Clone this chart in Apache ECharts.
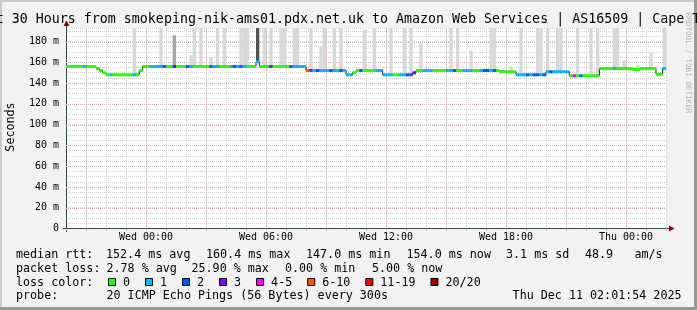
<!DOCTYPE html>
<html><head><meta charset="utf-8">
<script src="https://cdn.jsdelivr.net/npm/echarts@6/dist/echarts.min.js"></script>
<style>html,body{margin:0;padding:0;background:#f2f2f2}#c{width:697px;height:310px}</style>
</head><body><div id="c"></div>
<script>
// ---- data ----
const startHour = 20;      // hours after Tue 00:00 -> Tue 20:00
const endHour = 50;        // Thu 02:00
const sampleHours = 1 / 6; // 10 minute samples
const median = [
 156,156,156,156,156,156,156,156,156,154,
 152,150,148,148,148,148,148,148,148,148,
 148,148,152,156,156,156,156,156,156,156,
 156,156,156,156,156,156,156,156,156,156,
 156,156,156,156,156,156,156,156,156,156,
 156,156,156,156,156,156,156,160.4,156,156,
 156,156,156,156,156,156,156,156,156,156,
 156,156,152,152,152,152,152,152,152,152,
 152,152,152,152,148,148,150,152,152,152,
 152,152,152,152,152,148,148,148,148,148,
 148,148,148,148,150,152,152,152,152,152,
 152,152,152,152,152,152,152,152,152,152,
 152,152,152,152,152,152,152,152,152,152,
 151,151,151,151,151,148,148,148,148,148,
 148,148,148,148,151,151,151,151,151,151,
 151,147,147,147,147,147,147,147,147,147,
 154,154,154,154,154,154,154,154,154,154,
 153,153,154,154,154,154,154,148.5,148.5,154
];
const lossPings = [
 0,0,0,0,0,1,0,0,0,0,
 0,0,0,1,0,0,0,0,0,0,
 1,0,0,0,0,1,1,1,1,2,
 0,0,3,0,0,0,2,1,0,0,
 0,0,0,2,1,1,0,0,0,1,
 2,1,2,1,0,0,0,1,0,0,
 0,3,0,0,0,0,0,2,1,1,
 1,1,6,2,1,2,1,1,1,2,
 1,1,2,1,1,1,0,0,2,0,
 0,0,0,1,1,1,1,1,0,0,
 1,1,2,2,3,0,0,1,1,1,
 0,0,0,0,1,1,2,0,0,1,
 1,1,0,0,1,2,2,1,2,0,
 0,0,0,0,0,1,1,1,2,1,
 2,2,1,2,1,2,1,1,1,1,
 1,0,5,0,2,0,0,0,0,0,
 0,0,0,0,1,0,0,0,0,0,
 0,0,0,0,0,0,0,0,0,1
];
const smokeIndex = [20,28,32,37,38,40,43,45,47,52, 53,54,57,59,61,64,65,68,69,73,
 76,77,80,82,89,92,97,101,103,106, 115,117,121,127,128,133,136,141,142,144,
 147,148,153,157,159,164,165,167,171,175, 179];
const smokeTop = [200,200,186,167,200,200,165,200,200,200, 200,200,200,200,200,200,200,200,200,200,
 175,200,200,200,191,200,200,200,200,178, 200,200,171,200,200,156,200,200,200,200,
 200,200,200,200,200,200,200,162,157,169, 200];
const smokeShade = [0,0,1,0,0,0,0,0,0,0, 0,0,2,0,0,0,0,0,0,0,
 0,0,0,0,0,0,0,0,0,0, 0,0,0,0,0,0,0,0,0,0,
 0,0,0,0,0,0,0,0,0,0, 0];
const majorHours = [21,24,27,30,33,36,39,42,45,48];
const yMajorValues = [20,40,60,80,100,120,140,160,180];
const xLabelHours = [24,30,36,42,48];
const xLabelText = ['Wed 00:00','Wed 06:00','Wed 12:00','Wed 18:00','Thu 00:00'];
const lossUpper = [0,1,2,3,5,10,19,20];
const lossLabels = ['0','1','2','3','4-5','6-10','11-19','20/20'];
const titleText = 'Last 30 Hours from smokeping-nik-ams01.pdx.net.uk to Amazon Web Services | AS16509 | Cape Town';
const statRows = [
 [['median rtt:',16],['152.4 ms avg',106],['160.4 ms max',206],['147.0 ms min',306],['154.0 ms now',406.5],['3.1 ms sd',506],['48.9',585],['am/s',634.5]],
 [['packet loss:',16],['2.78 % avg',106.5],['25.90 % max',191.5],['0.00 % min',285],['5.00 % now',372]],
 [['loss color:',16]],
 [['probe:',16],['20 ICMP Echo Pings (56 Bytes) every 300s',106.5]]
];
const stampText = 'Thu Dec 11 02:01:54 2025';

// ---- styles ----
const lossColors = ['#26ff00','#00b8ff','#0059ff','#7e00ff','#ff00ff','#ff5500','#ff0000','#a10000'];
const shadeColors = ['#d8d8d8','#a8a8a8','#505050'];
const MONO = '"DejaVu Sans Mono"';
const yMax = 193;
const gridMinor = '#d4d4d4';
const gridMajor = '#eba3a3';
const axisColor = '#2c4d43';
const arrowColor = '#7f0000';

function lossColor(p) {
  for (let k = 0; k < lossUpper.length; k++) if (p <= lossUpper[k]) return lossColors[k];
  return lossColors[lossColors.length - 1];
}
const tAt = k => startHour + k * sampleHours;

const medianItems = median.map((v, k) => [tAt(k), tAt(k + 1), v, lossPings[k]]);
const stepPoints = median.map((v, k) => [tAt(k), v]).concat([[endHour, median[median.length - 1]]]);
const smokeItems = smokeIndex.map((k, j) => [tAt(k), tAt(k + 1), median[k], smokeTop[j], smokeShade[j]]);

const chart = echarts.init(document.getElementById('c'), null, {renderer: 'canvas', width: 697, height: 310});

const graphics = [];
// frame shading
graphics.push({type:'rect', shape:{x:0,y:0,width:697,height:2}, style:{fill:'#cbcbcb'}});
graphics.push({type:'rect', shape:{x:0,y:0,width:2,height:310}, style:{fill:'#cbcbcb'}});
graphics.push({type:'rect', shape:{x:0,y:307,width:697,height:3}, style:{fill:'#999999'}});
graphics.push({type:'rect', shape:{x:694,y:0,width:3,height:310}, style:{fill:'#999999'}});
// title
graphics.push({type:'text', x:348, y:19.5, style:{text:titleText, font:'13.3px ' + MONO, fill:'#000', textAlign:'center', textVerticalAlign:'middle'}});
// y axis name
graphics.push({type:'text', x:10.5, y:127, rotation:Math.PI/2, style:{text:'Seconds', font:'11.7px ' + MONO, fill:'#000', textAlign:'center', textVerticalAlign:'middle'}});
// watermark
graphics.push({type:'text', x:687.5, y:63, rotation:-Math.PI/2, style:{text:'RRDTOOL / TOBI OETIKER', font:'7.6px ' + MONO, fill:'#b4b4b4', textAlign:'center', textVerticalAlign:'middle'}});
// axis extensions and arrows
graphics.push({type:'line', shape:{x1:66.5,y1:28,x2:66.5,y2:23}, style:{stroke:axisColor, lineWidth:1}});
graphics.push({type:'line', shape:{x1:66.5,y1:228.5,x2:66.5,y2:232}, style:{stroke:axisColor, lineWidth:1}});
graphics.push({type:'polygon', shape:{points:[[63.5,26],[69.5,26],[66.5,20.5]]}, style:{fill:arrowColor}});
graphics.push({type:'line', shape:{x1:666,y1:228.5,x2:670,y2:228.5}, style:{stroke:axisColor, lineWidth:1}});
graphics.push({type:'line', shape:{x1:62.5,y1:228.5,x2:66,y2:228.5}, style:{stroke:axisColor, lineWidth:1}});
graphics.push({type:'polygon', shape:{points:[[669,225.5],[669,231.5],[674.5,228.5]]}, style:{fill:arrowColor}});
// stats rows
const rowY = [254.7, 268.6, 282.5, 296.4];
statRows.forEach((row, r) => row.forEach(([s, x]) => {
  graphics.push({type:'text', x:x, y:rowY[r], style:{text:s, font:'11.7px ' + MONO, fill:'#000', textAlign:'left', textVerticalAlign:'middle'}});
}));
graphics.push({type:'text', x:681.5, y:rowY[3], style:{text:stampText, font:'11.7px ' + MONO, fill:'#000', textAlign:'right', textVerticalAlign:'middle'}});
// loss colour legend
let lx = 108.5;
lossLabels.forEach((lab, k) => {
  graphics.push({type:'rect', shape:{x:lx, y:278.5, width:7, height:7}, style:{fill:lossColors[k], stroke:'#000', lineWidth:1}});
  graphics.push({type:'text', x:lx + 14.5, y:rowY[2], style:{text:lab, font:'11.7px ' + MONO, fill:'#000', textAlign:'left', textVerticalAlign:'middle'}});
  lx = lx + 14.5 + lab.length * 7.03 + 15.5;
});

const option = {
  animation: false,
  backgroundColor: '#f2f2f2',
  grid: {left:66, top:28, width:600, height:200.5, show:true, backgroundColor:'#ffffff', borderWidth:0},
  xAxis: {
    type:'value', min:startHour, max:endHour, interval:1,
    axisLine:{show:true, onZero:false, lineStyle:{color:axisColor, width:1}},
    axisTick:{show:true, length:2, lineStyle:{color:'#c89898'}},
    axisLabel:{show:true, margin:4, fontSize:10, fontFamily:'DejaVu Sans Mono', color:'#000',
      formatter: v => { const k = xLabelHours.indexOf(Math.round(v)); return k >= 0 ? xLabelText[k] : ''; }},
    splitLine:{show:true, lineStyle:{color:gridMinor, type:[1,1], width:1}}
  },
  yAxis: {
    type:'value', min:0, max:yMax, interval:5,
    axisLine:{show:true, onZero:false, lineStyle:{color:axisColor, width:1}},
    axisTick:{show:false},
    axisLabel:{show:true, margin:7, fontSize:10, fontFamily:'DejaVu Sans Mono', color:'#000',
      formatter: v => v === 0 ? '0' : (v % 20 === 0 ? v + ' m' : '')},
    splitLine:{show:true, lineStyle:{color:gridMinor, type:[1,1], width:1}}
  },
  graphic: graphics,
  series: [
    { // major vertical grid lines
      type:'custom', z:1, silent:true, clip:true,
      data: majorHours.map(h => [h, 0]),
      renderItem: (p, api) => {
        const a = api.coord([api.value(0), 0]), b = api.coord([api.value(0), yMax]);
        const x = Math.round(a[0]) + 0.5;
        return {type:'line', shape:{x1:x, y1:a[1], x2:x, y2:b[1]}, style:{stroke:gridMajor, lineWidth:1, lineDash:[1,1]}};
      }
    },
    { // major horizontal grid lines
      type:'custom', z:1, silent:true, clip:true,
      data: yMajorValues.map(v => [startHour, v]),
      renderItem: (p, api) => {
        const a = api.coord([startHour, api.value(1)]), b = api.coord([endHour, api.value(1)]);
        const y = Math.round(a[1]) + 0.5;
        return {type:'line', shape:{x1:a[0], y1:y, x2:b[0], y2:y}, style:{stroke:gridMajor, lineWidth:1, lineDash:[1,1]}};
      }
    },
    { // smoke
      type:'custom', z:2, silent:true, clip:true,
      encode:{x:[0,1], y:[2,3]},
      data: smokeItems,
      renderItem: (p, api) => {
        const hi = Math.min(api.value(3), yMax);
        const a = api.coord([api.value(0), hi]), b = api.coord([api.value(1), api.value(2)]);
        return {type:'rect', shape:{x:a[0], y:a[1], width:b[0]-a[0], height:b[1]-a[1]}, style:{fill:shadeColors[api.value(4)]}};
      }
    },
    { // step connector
      type:'line', z:3, silent:true, step:'end', symbol:'none',
      data: stepPoints,
      lineStyle:{color:'#1a1a1a', width:1}
    },
    { // median coloured by loss
      type:'custom', z:4, silent:true, clip:true,
      encode:{x:[0,1], y:2},
      data: medianItems,
      renderItem: (p, api) => {
        const a = api.coord([api.value(0), api.value(2)]), b = api.coord([api.value(1), api.value(2)]);
        return {type:'rect', shape:{x:a[0], y:a[1]-1.5, width:b[0]-a[0], height:3}, style:{fill:lossColor(api.value(3))}};
      }
    }
  ]
};
chart.setOption(option);
</script></body></html>
